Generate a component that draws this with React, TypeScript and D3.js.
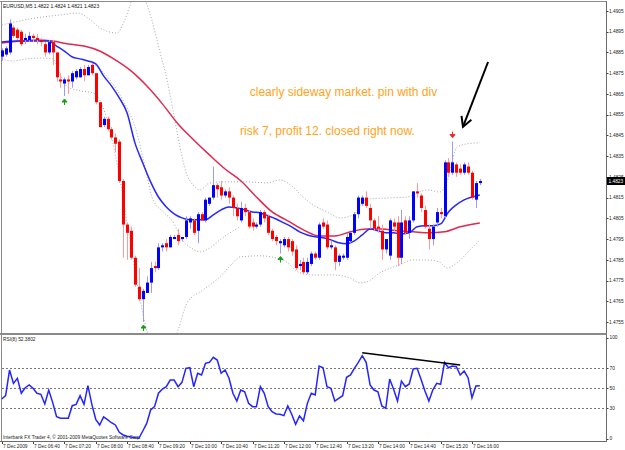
import React from "react";
import * as d3 from "d3";

// EURUSD M5, 7 Dec 2009, bar 0 = 06:00
const opens = [
  1.4883, 1.4884, 1.4885, 1.4897, 1.4896, 1.4895, 1.4891, 1.4891, 1.4893, 1.4892,
  1.4891, 1.4889, 1.4885, 1.489, 1.4885, 1.4872, 1.487, 1.4872, 1.4871, 1.4873,
  1.4873, 1.4877, 1.4874, 1.4879, 1.4875, 1.4861, 1.485, 1.4853, 1.4848, 1.4844,
  1.4842, 1.4823, 1.4802, 1.4799, 1.4786, 1.4772, 1.4766, 1.4769, 1.4774, 1.4782,
  1.4781, 1.4791, 1.4793, 1.4791, 1.4795, 1.4797, 1.4795, 1.4796, 1.4803, 1.4804,
  1.4799, 1.4807, 1.4804, 1.4812, 1.4815, 1.4821, 1.482, 1.4816, 1.4818, 1.4815,
  1.481, 1.4804, 1.481, 1.4808, 1.4803, 1.4801, 1.4802, 1.4808, 1.4806, 1.4799,
  1.4796, 1.4793, 1.4792, 1.4795, 1.4794, 1.479, 1.4782, 1.4784, 1.4779, 1.4783,
  1.4788, 1.4786, 1.4803, 1.4802, 1.4791, 1.4791, 1.4784, 1.4786, 1.4786, 1.4794,
  1.4798, 1.4807, 1.4812, 1.4815, 1.481, 1.4804, 1.4801, 1.4799, 1.479, 1.4787,
  1.4803, 1.4803, 1.4786, 1.4804, 1.4798, 1.4804, 1.4818, 1.4816, 1.4809, 1.48,
  1.4795, 1.4803, 1.4808, 1.4806, 1.4832, 1.4827, 1.4831, 1.4829, 1.4827, 1.483,
  1.4827, 1.4814, 1.4822,
];
const highs = [
  1.4887, 1.4888, 1.4901, 1.4898, 1.4897, 1.4896, 1.4894, 1.4895, 1.4894, 1.4894,
  1.4892, 1.489, 1.4891, 1.4891, 1.4885, 1.4875, 1.4873, 1.4874, 1.4876, 1.4877,
  1.4878, 1.4879, 1.4879, 1.488, 1.4875, 1.4861, 1.4854, 1.4854, 1.4849, 1.4846,
  1.4843, 1.4824, 1.4803, 1.4801, 1.4787, 1.4781, 1.4771, 1.4777, 1.4784, 1.4784,
  1.4793, 1.4793, 1.4795, 1.4797, 1.4797, 1.48, 1.4796, 1.4806, 1.4806, 1.4805,
  1.4808, 1.4808, 1.4815, 1.4815, 1.483, 1.4822, 1.4823, 1.4819, 1.482, 1.4816,
  1.4812, 1.4813, 1.4812, 1.4809, 1.4805, 1.4803, 1.4809, 1.4809, 1.4807, 1.48,
  1.4797, 1.4795, 1.4796, 1.4796, 1.4795, 1.4792, 1.4785, 1.4786, 1.4786, 1.4789,
  1.4789, 1.4803, 1.4805, 1.4804, 1.4794, 1.4792, 1.4788, 1.4788, 1.4798, 1.4798,
  1.4808, 1.4816, 1.4816, 1.4818, 1.4812, 1.4805, 1.4806, 1.4802, 1.4795, 1.4805,
  1.4805, 1.4806, 1.4809, 1.4806, 1.4806, 1.4818, 1.4822, 1.4817, 1.4811, 1.4802,
  1.4802, 1.481, 1.481, 1.4833, 1.4834, 1.4842, 1.4832, 1.4831, 1.4832, 1.4832,
  1.4828, 1.4823, 1.4824,
];
const lows = [
  1.4881, 1.4883, 1.4884, 1.4892, 1.4891, 1.4888, 1.4889, 1.489, 1.489, 1.4889,
  1.4888, 1.4883, 1.4884, 1.4879, 1.4871, 1.4868, 1.4864, 1.4865, 1.4868, 1.4872,
  1.4873, 1.4871, 1.4874, 1.4874, 1.486, 1.4849, 1.4849, 1.4847, 1.4843, 1.4837,
  1.4822, 1.4786, 1.4785, 1.4785, 1.4772, 1.4765, 1.4755, 1.4769, 1.4769, 1.4779,
  1.478, 1.4789, 1.4789, 1.4791, 1.4795, 1.4792, 1.4794, 1.4795, 1.48, 1.4797,
  1.4793, 1.4804, 1.4803, 1.4811, 1.4814, 1.4815, 1.4814, 1.4815, 1.4812, 1.4806,
  1.4804, 1.4803, 1.4806, 1.48, 1.4799, 1.48, 1.4801, 1.4803, 1.4797, 1.4794,
  1.4792, 1.4788, 1.4791, 1.4789, 1.4787, 1.478, 1.478, 1.4778, 1.4778, 1.4782,
  1.4785, 1.4785, 1.48, 1.479, 1.479, 1.478, 1.4782, 1.4785, 1.4785, 1.4793,
  1.4797, 1.4805, 1.4811, 1.481, 1.48, 1.4799, 1.4798, 1.4785, 1.4788, 1.4785,
  1.4799, 1.4782, 1.4783, 1.4797, 1.4795, 1.4803, 1.4815, 1.4808, 1.48, 1.479,
  1.4792, 1.4801, 1.4805, 1.4805, 1.4825, 1.4826, 1.4825, 1.4826, 1.4826, 1.4826,
  1.4814, 1.481, 1.4821,
];
const closes = [
  1.4886, 1.4887, 1.4899, 1.4893, 1.4892, 1.4889, 1.4892, 1.4893, 1.4892, 1.4891,
  1.489, 1.4885, 1.489, 1.4885, 1.4873, 1.4871, 1.4872, 1.4871, 1.4875, 1.4876,
  1.4877, 1.4874, 1.4878, 1.4875, 1.4861, 1.4849, 1.4853, 1.4848, 1.4844, 1.4841,
  1.4823, 1.4802, 1.4798, 1.4786, 1.4773, 1.4766, 1.477, 1.4774, 1.4781, 1.4781,
  1.4791, 1.4792, 1.4791, 1.4796, 1.4796, 1.4794, 1.4796, 1.4804, 1.4805, 1.4798,
  1.4807, 1.4804, 1.4814, 1.4815, 1.4821, 1.4819, 1.4816, 1.4818, 1.4815, 1.481,
  1.4806, 1.481, 1.4808, 1.4801, 1.4801, 1.4802, 1.4808, 1.4805, 1.4798, 1.4795,
  1.4794, 1.4794, 1.4795, 1.4791, 1.4789, 1.4781, 1.4783, 1.4779, 1.4784, 1.4788,
  1.4786, 1.4802, 1.4801, 1.4791, 1.4792, 1.4784, 1.4787, 1.4787, 1.4796, 1.4798,
  1.4807, 1.4815, 1.4815, 1.4811, 1.4804, 1.48, 1.48, 1.479, 1.4795, 1.4804,
  1.4801, 1.4786, 1.4803, 1.4798, 1.4804, 1.4818, 1.4817, 1.481, 1.4801, 1.4795,
  1.4801, 1.4808, 1.4807, 1.4832, 1.4827, 1.4832, 1.4827, 1.4827, 1.4831, 1.4827,
  1.4815, 1.4822, 1.4823,
];

const rsiValues = [
  39.3, 42.6, 68, 54.8, 59.8, 45, 50.5, 53.2, 49.9, 45,
  44, 34.4, 48.2, 36, 21.8, 20.2, 20.2, 20.2, 32.7, 34,
  42.6, 34, 52.5, 34, 19.2, 13.6, 21.5, 18.8, 15.8, 13.6,
  6.3, 3.7, 2.4, 1.7, 1, 0.4, 7.6, 15.2, 28.4, 31.7,
  45, 49.2, 51.5, 58.1, 58.1, 51.5, 55.8, 69.7, 70.3, 51.5,
  64.8, 63.1, 74.6, 75.6, 80.6, 77.9, 64.8, 68, 59.8, 45,
  37.3, 48.2, 46.5, 35, 31.7, 31.7, 51.5, 45, 31.7, 26.7,
  24.5, 24.2, 22.8, 32.4, 24.2, 14.3, 22.5, 17.8, 35, 45,
  43.3, 72, 70.3, 51.5, 49.9, 37.3, 40, 42.6, 60.8, 63.1,
  69.7, 75.6, 82.2, 75.6, 53.2, 48.2, 46.5, 32.4, 30.1, 59.1,
  48.9, 37.3, 57.1, 51.5, 54.2, 69, 69.7, 58.8, 47.2, 37.3,
  48.2, 54.8, 53.9, 75.6, 70.3, 72, 71.3, 63.1, 67, 60.4,
  40.6, 52.2, 52.3802,
];

// indicator lines as [bar, price]
const blueMa: [number, number][] = [
  [0, 1.48901], [4, 1.48905], [12, 1.48905], [14, 1.48881], [16, 1.48857], [18, 1.48828],
  [20, 1.48819], [22, 1.48809], [24, 1.48795], [26, 1.48737], [28, 1.48689], [30, 1.48631],
  [32, 1.48558], [34, 1.48414], [36, 1.48317], [38, 1.48226], [40, 1.48153], [42, 1.48105],
  [44, 1.48072], [46, 1.48052], [48, 1.48043], [50, 1.48043], [52, 1.48043], [54, 1.48067],
  [56, 1.48091], [58, 1.48105], [60, 1.481], [62, 1.48091], [64, 1.48081], [66, 1.48076],
  [68, 1.48062], [70, 1.48047], [72, 1.48028], [74, 1.48009], [76, 1.47985], [78, 1.4797],
  [80, 1.47961], [82, 1.47956], [84, 1.47946], [86, 1.47932], [88, 1.47927], [90, 1.47941],
  [92, 1.4797], [94, 1.47999], [96, 1.4799], [98, 1.4798], [100, 1.4798], [102, 1.47975],
  [104, 1.4798], [106, 1.48009], [108, 1.48014], [110, 1.48014], [112, 1.48023], [114, 1.48081],
  [116, 1.48115], [118, 1.48139], [120, 1.48153], [122, 1.48163],
];
const redMa: [number, number][] = [
  [0, 1.48896], [5, 1.48905], [9, 1.4891], [13, 1.48905], [17, 1.48891], [21, 1.48881],
  [25, 1.48857], [29, 1.48814], [33, 1.48761], [37, 1.48689], [41, 1.48602], [45, 1.48505],
  [49, 1.48428], [53, 1.48356], [57, 1.48288], [61, 1.48231], [65, 1.48153], [69, 1.48081],
  [73, 1.48038], [77, 1.47994], [81, 1.47965], [85, 1.47965], [89, 1.47985], [93, 1.47999],
  [97, 1.47999], [101, 1.4799], [105, 1.47985], [109, 1.4798], [113, 1.47985], [117, 1.48009],
  [122, 1.48028],
];
const upperBand: [number, number][] = [
  [0, 1.48983], [3.4, 1.48997], [8.5, 1.49016], [14.9, 1.49031], [19.5, 1.4904], [22, 1.49016],
  [25.1, 1.48968], [29.4, 1.48944], [31.2, 1.48997], [32.7, 1.49074], [34.5, 1.49175],
  [36, 1.49127], [37.1, 1.49079], [38.3, 1.49007], [40.4, 1.48852], [42.2, 1.48717],
  [43.7, 1.48573], [45.5, 1.48394], [47, 1.48274], [48.8, 1.48211], [50.6, 1.48187],
  [53.1, 1.48221], [57, 1.48226], [62.1, 1.48226], [67.7, 1.48221], [71, 1.48235],
  [74.3, 1.48202], [76.9, 1.48153], [79.4, 1.48115], [83, 1.48081], [86.3, 1.48052],
  [89.6, 1.48066], [93.2, 1.48143], [98.3, 1.48148], [103.4, 1.48153], [108.5, 1.48187],
  [111.8, 1.48177], [113.6, 1.48226], [116.2, 1.48394], [118.7, 1.48409], [122, 1.48414],
];
const lowerBand: [number, number][] = [
  [0, 1.48819], [2.9, 1.48809], [6.5, 1.48819], [9.8, 1.48823], [13.1, 1.48819], [14.9, 1.48742],
  [16.7, 1.48684], [19.2, 1.48669], [21.8, 1.4866], [23.3, 1.48655], [25, 1.48621],
  [27.6, 1.48476], [30.2, 1.48235], [32.7, 1.47946], [35.3, 1.47657], [37.8, 1.47464],
  [40.4, 1.47416], [43, 1.4744], [45, 1.47512], [47.3, 1.47642], [51.4, 1.47705],
  [55.7, 1.47768], [59, 1.47835], [60.8, 1.47864], [65.9, 1.47869], [71.8, 1.47849],
  [76.1, 1.47787], [79.4, 1.47777], [84.5, 1.47777], [88.8, 1.47763], [91.4, 1.47739],
  [93.2, 1.47744], [96.5, 1.47787], [101.6, 1.47826], [104.9, 1.47849], [108.5, 1.47849],
  [111.8, 1.47839], [113.6, 1.4781], [116.2, 1.47835], [119.5, 1.47898], [122, 1.47946],
];
const innerBand: [number, number][] = [
  [23.3, 1.48799], [27.6, 1.48717], [30.9, 1.48621], [34.5, 1.48462], [36, 1.48346],
  [38.6, 1.48139], [41.2, 1.48081], [43.7, 1.48033], [46, 1.47946], [48, 1.47912],
  [50.6, 1.47888], [53.1, 1.47907], [55.7, 1.47946], [58.2, 1.4798], [60.8, 1.48009],
];

const timeLabels = [
  "7 Dec 2009", "7 Dec 06:40", "7 Dec 07:20", "7 Dec 08:00", "7 Dec 08:40", "7 Dec 09:20",
  "7 Dec 10:00", "7 Dec 10:40", "7 Dec 11:20", "7 Dec 12:00", "7 Dec 12:40", "7 Dec 13:20",
  "7 Dec 14:00", "7 Dec 14:40", "7 Dec 15:20", "7 Dec 16:00",
];
const barsPerLabel = 8;
const priceTicks = [
  1.4755, 1.4765, 1.4775, 1.4785, 1.4795, 1.4805, 1.4815, 1.4825,
  1.4835, 1.4845, 1.4855, 1.4865, 1.4875, 1.4885, 1.4895, 1.4905,
];
const rsiLevels = [30, 50, 70];
const rsiTicks = [0, 30, 50, 70, 100];
const buySignals = [16, 36, 71];
const sellSignals = [115];
const rsiTrend: [number, number][] = [[92, 85], [117, 73]];
const arrowFrom: [number, number] = [124.1, 1.48804];
const arrowTo: [number, number] = [117.7, 1.48491];
const notes = [
  { text: "clearly sideway market. pin with div", bar: 63.3, price: 1.48638 },
  { text: "risk 7, profit 12. closed right now.", bar: 60.8, price: 1.4845 },
];

const axisFont = "'Liberation Sans', Arial, sans-serif";

export default function App() {
  const width = 625;
  const height = 450;
  const axisX = 606.5;

  const x = d3.scaleLinear().domain([0, 154.2]).range([1.7, 606]);
  const y = d3.scaleLinear().domain([1.4755, 1.4905]).range([322, 11]);
  const yr = d3.scaleLinear().domain([0, 100]).range([438.7, 337.7]);

  const pathOf = (pts: [number, number][]) =>
    d3.line<[number, number]>().x(d => x(d[0])).y(d => y(d[1])).curve(d3.curveMonotoneX)(pts) || "";

  const rsiLine = d3.line<number>().x((_, i) => x(i)).y(d => yr(d))(rsiValues) || "";

  const last = opens.length - 1;
  const fmt = d3.format(".4f");
  const header = `EURUSD,M5  ${fmt(opens[last])} ${fmt(highs[last])} ${fmt(lows[last])} ${fmt(closes[last])}`;

  // black annotation arrow
  const ax1 = x(arrowFrom[0]), ay1 = y(arrowFrom[1]);
  const ax2 = x(arrowTo[0]), ay2 = y(arrowTo[1]);
  const ang = Math.atan2(ay2 - ay1, ax2 - ax1);
  const wing = (d: number) => [ax2 - 11 * Math.cos(ang + d), ay2 - 11 * Math.sin(ang + d)];
  const w1 = wing(0.5), w2 = wing(-0.5);

  return (
    <svg width={width} height={height} style={{ position: "absolute", left: 0, top: 0, background: "#fff" }}>
      <defs>
        <clipPath id="mainClip">
          <rect x={1} y={2} width={605} height={331} />
        </clipPath>
        <clipPath id="rsiClip">
          <rect x={1} y={336} width={605} height={106} />
        </clipPath>
      </defs>
      <rect width={width} height={height} fill="#ffffff" />

      {/* frame */}
      <line x1={0} x2={axisX} y1={1.5} y2={1.5} stroke="#8a8a8a" />
      <line x1={1.5} x2={1.5} y1={1} y2={442} stroke="#8a8a8a" />
      <line x1={axisX} x2={axisX} y1={1} y2={442} stroke="#6a6a6a" />
      <rect x={0} y={333} width={axisX} height={2} fill="#8a8a8a" />
      <line x1={0} x2={axisX} y1={441.5} y2={441.5} stroke="#6a6a6a" />

      {/* price axis */}
      {priceTicks.map(p => (
        <g key={p}>
          <line x1={axisX} x2={axisX + 2} y1={Math.round(y(p)) + 0.5} y2={Math.round(y(p)) + 0.5} stroke="#444" />
          <text x={609} y={y(p) + 1.7} fontSize={4.8} fontFamily={axisFont} fill="#222">{fmt(p)}</text>
        </g>
      ))}
      <rect x={607} y={y(closes[last]) - 4} width={18} height={8} fill="#000" />
      <text x={608.5} y={y(closes[last]) + 1.8} fontSize={4.8} fontFamily={axisFont} fill="#fff">{fmt(closes[last])}</text>

      {/* main panel */}
      <g clipPath="url(#mainClip)">
        {[upperBand, lowerBand, innerBand].map((b, k) => (
          <path key={k} d={pathOf(b)} fill="none" stroke="#a8a8a8" strokeWidth={1} strokeDasharray="1,2" />
        ))}
        <path d={pathOf(redMa)} fill="none" stroke="#e02850" strokeWidth={1.5} />
        <path d={pathOf(blueMa)} fill="none" stroke="#2626ff" strokeWidth={1.5} />
        {opens.map((o, i) => {
          const c = closes[i];
          const bull = c >= o;
          const cx = Math.round(x(i));
          const top = y(Math.max(o, c));
          const bh = Math.max(1, Math.abs(y(o) - y(c)));
          return (
            <g key={i}>
              <line x1={cx + 0.5} x2={cx + 0.5} y1={y(highs[i])} y2={y(lows[i])}
                stroke={bull ? "#9a9aff" : "#ff9a9a"} strokeWidth={1} />
              <rect x={cx - 1} y={top} width={3} height={bh} fill={bull ? "#0000ff" : "#ff0000"} />
            </g>
          );
        })}
        {buySignals.map(i => {
          const cx = Math.round(x(i)) + 0.5;
          const t = y(lows[i]) + 3;
          return (
            <path key={i} d={`M${cx},${t} L${cx + 2.5},${t + 3} L${cx - 2.5},${t + 3} Z M${cx},${t + 3} L${cx},${t + 6}`}
              fill="#14a014" stroke="#14a014" strokeWidth={1} />
          );
        })}
        {sellSignals.map(i => {
          const cx = Math.round(x(i)) + 0.5;
          const b = y(highs[i]) - 4;
          return (
            <path key={i} d={`M${cx},${b} L${cx + 2.5},${b - 3} L${cx - 2.5},${b - 3} Z M${cx},${b - 3} L${cx},${b - 6}`}
              fill="#ff2020" stroke="#ff2020" strokeWidth={1} />
          );
        })}
      </g>

      {/* annotations */}
      {notes.map(n => (
        <text key={n.text} x={x(n.bar)} y={y(n.price)} fontSize={12} fontFamily={axisFont} fill="#ffa31a">{n.text}</text>
      ))}
      <line x1={ax1} y1={ay1} x2={ax2} y2={ay2} stroke="#000" strokeWidth={2} />
      <polyline points={`${w1[0]},${w1[1]} ${ax2},${ay2} ${w2[0]},${w2[1]}`} fill="none" stroke="#000" strokeWidth={2} />

      <text x={3} y={7.5} fontSize={5} fontFamily={axisFont} fill="#111">{header}</text>

      {/* RSI panel */}
      {rsiLevels.map(l => (
        <line key={l} x1={2} x2={axisX} y1={Math.round(yr(l)) + 0.5} y2={Math.round(yr(l)) + 0.5}
          stroke="#7a7a7a" strokeDasharray="2,2" />
      ))}
      <g clipPath="url(#rsiClip)">
        <path d={rsiLine} fill="none" stroke="#2424ff" strokeWidth={1.5} />
      </g>
      <line x1={x(rsiTrend[0][0])} y1={yr(rsiTrend[0][1])} x2={x(rsiTrend[1][0])} y2={yr(rsiTrend[1][1])}
        stroke="#000" strokeWidth={1.5} />
      {rsiTicks.map(t => (
        <g key={t}>
          <line x1={axisX} x2={axisX + 2} y1={Math.round(yr(t)) + 0.5} y2={Math.round(yr(t)) + 0.5} stroke="#444" />
          <text x={609.5} y={yr(t) + 1.7} fontSize={4.8} fontFamily={axisFont} fill="#222">{t}</text>
        </g>
      ))}
      <text x={3} y={341} fontSize={4.8} fontFamily={axisFont} fill="#222">{`RSI(8) ${d3.format(".4f")(rsiValues[last])}`}</text>
      <text x={3} y={439} fontSize={4.8} fontFamily={axisFont} fill="#222">
        Interbank FX Trader 4, © 2001-2009 MetaQuotes Software Corp.
      </text>

      {/* time axis */}
      {timeLabels.map((t, k) => {
        const tx = Math.round(x(k * barsPerLabel)) + 0.5;
        return (
          <g key={t}>
            <line x1={tx} x2={tx} y1={442} y2={444} stroke="#444" />
            <text x={tx + 0.5} y={447.5} fontSize={4.8} fontFamily={axisFont} fill="#222">{t}</text>
          </g>
        );
      })}
    </svg>
  );
}
